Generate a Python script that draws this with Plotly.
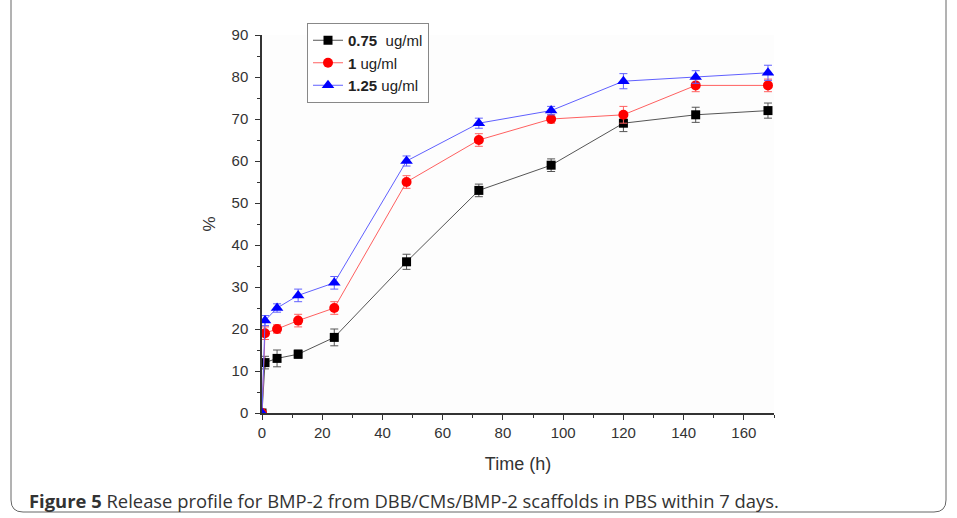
import plotly.graph_objects as go

time_h = [0, 1, 5, 12, 24, 48, 72, 96, 120, 144, 168]
s075 = [0, 12, 13, 14, 18, 36, 53, 59, 69, 71, 72]
s100 = [0, 19, 20, 22, 25, 55, 65, 70, 71, 78, 78]
s125 = [0, 22, 25, 28, 31, 60, 69, 72, 79, 80, 81]
e075 = [0, 1.5, 2, 1, 2, 1.8, 1.5, 1.5, 2, 1.8, 1.8]
e100 = [0, 1.5, 1, 1.5, 1.5, 1.5, 1.5, 1, 2, 1.5, 1.5]
e125 = [0, 1.2, 1, 1.5, 1.5, 1.2, 1.2, 1, 1.8, 1.5, 1.8]
names = ["<b>0.75</b>  ug/ml", "<b>1</b> ug/ml", "<b>1.25</b> ug/ml"]

series = [
    (s075, e075, names[0], "#000000", "#555555", "square", 9),
    (s100, e100, names[1], "#ff0000", "#ff6060", "circle", 10),
    (s125, e125, names[2], "#0000ff", "#6060ff", "triangle-up", 11),
]

fig = go.Figure()
for y, e, nm, mc, lc, sym, sz in series:
    fig.add_trace(go.Scatter(
        x=time_h, y=y, name=nm, mode="lines+markers",
        line=dict(color=lc, width=1),
        marker=dict(color=mc, symbol=sym, size=sz),
        error_y=dict(type="data", array=e, visible=True, color=lc, thickness=1, width=4),
    ))

L, R, T, B = 262, 774, 35, 413
W, H = R - L, B - T
def px(x):
    return (x - L) / W
def py(y):
    return (B - y) / H

# rounded outer border
x0, x1, y0, y1 = px(11), px(946), py(512), py(-10)
rx, ry = 12 / W, 12 / H
path = (f"M {x0},{y1} L {x0},{y0+ry} Q {x0},{y0} {x0+rx},{y0} "
        f"L {x1-rx},{y0} Q {x1},{y0} {x1},{y0+ry} L {x1},{y1}")

fig.update_layout(
    width=957, height=518,
    margin=dict(l=L, r=957 - R, t=T, b=518 - B),
    paper_bgcolor="white", plot_bgcolor="#fdfdfd",
    font=dict(family="Arial, Liberation Sans", size=15, color="#333333"),
    showlegend=True,
    legend=dict(x=px(307), y=py(23), xanchor="left", yanchor="top",
                bgcolor="white", bordercolor="#888888", borderwidth=1,
                font=dict(size=15, color="#222222"), tracegroupgap=0),
    shapes=[dict(type="path", path=path, xref="paper", yref="paper",
                 line=dict(color="#666666", width=1))],
    annotations=[dict(
        x=px(27), y=py(500), xref="paper", yref="paper", xanchor="left", yanchor="middle",
        showarrow=False,
        text="<b>Figure 5</b> Release profile for BMP-2 from DBB/CMs/BMP-2 scaffolds in PBS within 7 days.",
        font=dict(family="Open Sans", size=18.4, color="#333333"))],
)
fig.update_xaxes(
    range=[0, 170], tickmode="array", tickvals=list(range(0, 161, 20)),
    showgrid=False, zeroline=False, showline=True, linecolor="#333333", linewidth=1.5,
    ticks="outside", ticklen=5, tickcolor="#333333",
    minor=dict(ticks="outside", ticklen=3, dtick=10, tick0=0, tickcolor="#333333"),
    title=dict(text="Time (h)", font=dict(size=18), standoff=18),
)
fig.update_yaxes(
    range=[0, 90], dtick=10, tick0=0, ticklabelstandoff=4,
    showgrid=False, zeroline=False, showline=True, linecolor="#333333", linewidth=1.5,
    ticks="outside", ticklen=5, tickcolor="#333333",
    minor=dict(ticks="outside", ticklen=3, dtick=5, tick0=0, tickcolor="#333333"),
    title=dict(text="%", font=dict(size=17), standoff=12),
)

fig.write_html("out.html")
